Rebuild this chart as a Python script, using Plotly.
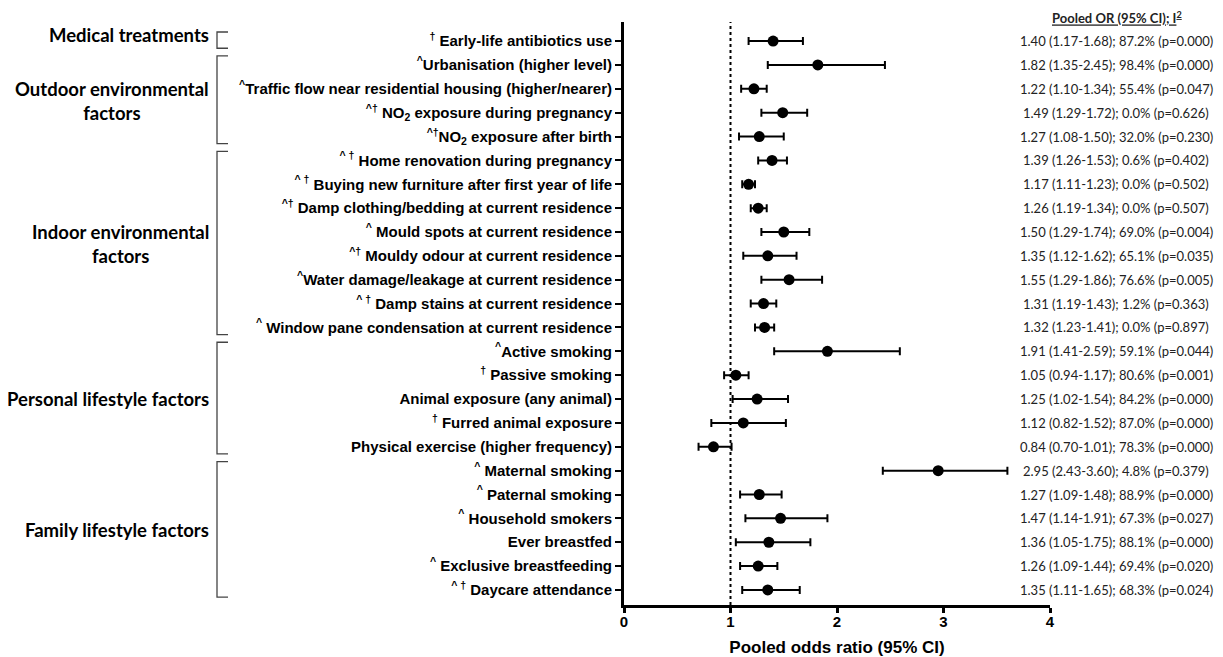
import plotly.graph_objects as go

factors = [
    "<sup>†</sup> Early-life antibiotics use",
    "<sup>^</sup>Urbanisation (higher level)",
    "<sup>^</sup>Traffic flow near residential housing (higher/nearer)",
    "<sup>^†</sup> NO<sub>2</sub> exposure during pregnancy",
    "<sup>^†</sup>NO<sub>2</sub> exposure after birth",
    "<sup>^ †</sup> Home renovation during pregnancy",
    "<sup>^ †</sup> Buying new furniture after first year of life",
    "<sup>^†</sup> Damp clothing/bedding at current residence",
    "<sup>^</sup> Mould spots at current residence",
    "<sup>^†</sup> Mouldy odour at current residence",
    "<sup>^</sup>Water damage/leakage at current residence",
    "<sup>^ †</sup> Damp stains at current residence",
    "<sup>^</sup> Window pane condensation at current residence",
    "<sup>^</sup>Active smoking",
    "<sup>†</sup> Passive smoking",
    "Animal exposure (any animal)",
    "<sup>†</sup> Furred animal exposure",
    "Physical exercise (higher frequency)",
    "<sup>^</sup> Maternal smoking",
    "<sup>^</sup> Paternal smoking",
    "<sup>^</sup> Household smokers",
    "Ever breastfed",
    "<sup>^</sup> Exclusive breastfeeding",
    "<sup>^ †</sup> Daycare attendance",
]
pooled_or = [1.40, 1.82, 1.22, 1.49, 1.27, 1.39, 1.17, 1.26, 1.50, 1.35, 1.55, 1.31, 1.32,
             1.91, 1.05, 1.25, 1.12, 0.84, 2.95, 1.27, 1.47, 1.36, 1.26, 1.35]
ci_low = [1.17, 1.35, 1.10, 1.29, 1.08, 1.26, 1.11, 1.19, 1.29, 1.12, 1.29, 1.19, 1.23,
          1.41, 0.94, 1.02, 0.82, 0.70, 2.43, 1.09, 1.14, 1.05, 1.09, 1.11]
ci_high = [1.68, 2.45, 1.34, 1.72, 1.50, 1.53, 1.23, 1.34, 1.74, 1.62, 1.86, 1.43, 1.41,
           2.59, 1.17, 1.54, 1.52, 1.01, 3.60, 1.48, 1.91, 1.75, 1.44, 1.65]
i2 = [87.2, 98.4, 55.4, 0.0, 32.0, 0.6, 0.0, 0.0, 69.0, 65.1, 76.6, 1.2, 0.0,
      59.1, 80.6, 84.2, 87.0, 78.3, 4.8, 88.9, 67.3, 88.1, 69.4, 68.3]
p_het = [0.000, 0.000, 0.047, 0.626, 0.230, 0.402, 0.502, 0.507, 0.004, 0.035, 0.005, 0.363, 0.897,
         0.044, 0.001, 0.000, 0.000, 0.000, 0.379, 0.000, 0.027, 0.000, 0.020, 0.024]
groups = ["Medical treatments", "Outdoor environmental<br>factors", "Indoor environmental<br>factors",
          "Personal lifestyle factors", "Family lifestyle factors"]
group_rows = [(0, 0), (1, 4), (5, 12), (13, 17), (18, 23)]
x_ticks = [0, 1, 2, 3, 4]

rows = list(range(len(factors)))

fig = go.Figure()
fig.add_trace(go.Scatter(
    x=pooled_or, y=rows, mode="markers",
    marker=dict(color="black", size=11),
    error_x=dict(type="data", symmetric=False,
                 array=[h - o for h, o in zip(ci_high, pooled_or)],
                 arrayminus=[o - l for o, l in zip(pooled_or, ci_low)],
                 color="black", thickness=2, width=4),
    showlegend=False, cliponaxis=False,
))

# reference line at OR = 1
fig.add_shape(type="line", xref="x", yref="paper", x0=1, x1=1, y0=0, y1=1,
              line=dict(color="black", width=2, dash="dot"))

# right-hand text column
for r, o, l, h, q, p in zip(rows, pooled_or, ci_low, ci_high, i2, p_het):
    fig.add_annotation(xref="paper", yref="y", x=1.155, y=r, xanchor="center",
                       text=f"{o:.2f} ({l:.2f}-{h:.2f}); {q:.1f}% (p={p:.3f})",
                       showarrow=False, font=dict(family="Lato", size=13, color="#222"))
fig.add_annotation(xref="paper", yref="paper", x=1.157, y=1.0, yanchor="bottom", xanchor="center",
                   text="<b><u>Pooled OR (95% CI); I<sup>2</sup></u></b>", showarrow=False,
                   font=dict(family="Lato", size=13, color="#222"), yshift=-6)

# group labels and brackets
px_per_paper = 426.0
def px_to_paper(px):
    return (px - 624.0) / px_per_paper

for g, (a, b) in zip(groups, group_rows):
    fig.add_annotation(xref="paper", yref="y", x=px_to_paper(211), y=(a + b) / 2 - (0.25 if a == b else 0),
                       xanchor="right", align="center", text=f"<b>{g}</b>", showarrow=False,
                       font=dict(family="Lato", size=18.5, color="black"))
    top, bot = a - 0.38, b + 0.3
    xv, xh = px_to_paper(217), px_to_paper(228)
    fig.add_shape(type="path", xref="paper", yref="y",
                  path=f"M {xh} {top} L {xv} {top} L {xv} {bot} L {xh} {bot}",
                  line=dict(color="#444", width=1.3))

fig.update_layout(
    width=1223, height=657, autosize=False,
    margin=dict(l=624, r=173, t=22, b=52),
    plot_bgcolor="white", paper_bgcolor="white",
    xaxis=dict(range=[0, 4], tickvals=x_ticks, ticktext=[str(t) for t in x_ticks],
               automargin=False,
               showgrid=False, zeroline=False, showline=True, linecolor="black", linewidth=3,
               ticks="outside", ticklen=5, tickwidth=3, tickcolor="black", ticklabelstandoff=-4,
               tickfont=dict(family="Liberation Sans", size=15, color="black", weight="bold"),
               title=dict(text="<b>Pooled odds ratio (95% CI)</b>", standoff=14,
                          font=dict(family="Liberation Sans", size=17, color="black"))),
    yaxis=dict(range=[23.63, -0.8], tickvals=rows, ticktext=factors,
               automargin=False,
               showgrid=False, zeroline=False, showline=True, linecolor="black", linewidth=3,
               ticks="outside", ticklen=6, tickwidth=2, tickcolor="black",
               tickfont=dict(family="Liberation Sans", size=15, color="black", weight="bold")),
)

fig.write_html("out.html", config={"displayModeBar": False},
               post_script="document.body.style.margin='0px';")
